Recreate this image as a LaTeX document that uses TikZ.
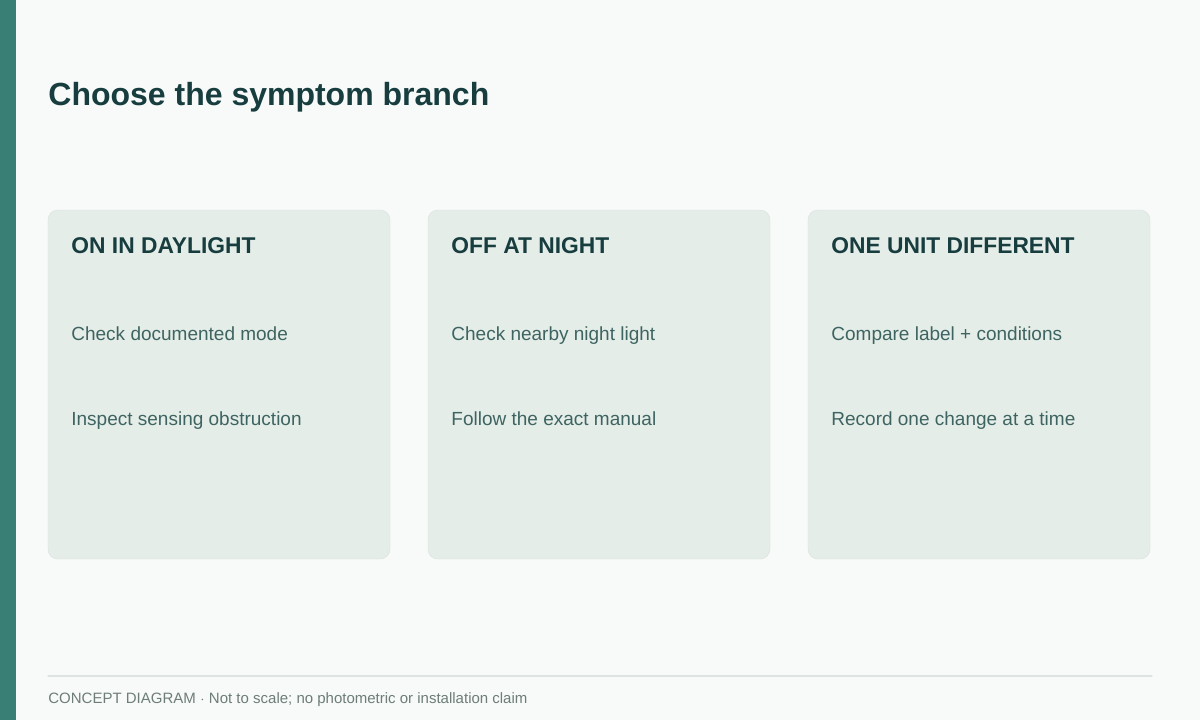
\documentclass[tikz,border=0pt]{standalone}
\usepackage{fontspec}
\setmainfont{Liberation Sans}
\usetikzlibrary{positioning}
\definecolor{pagebg}{HTML}{F7FAF9}
\definecolor{barteal}{HTML}{3A7F76}
\definecolor{cardfill}{HTML}{E5EDE8}
\definecolor{inkdark}{HTML}{173D3F}
\definecolor{inkbody}{HTML}{3E6461}
\definecolor{inkfoot}{HTML}{6E7D7A}
\definecolor{rulegray}{HTML}{DDE4E1}
\tikzset{
  card/.style={fill=cardfill, rounded corners=5pt, draw=cardfill!95!black, line width=0.2pt},
  cardhead/.style={anchor=base west, inner sep=0pt, font=\fontsize{11.4}{13}\selectfont\bfseries, text=inkdark},
  cardline/.style={anchor=base west, inner sep=0pt, font=\fontsize{9.5}{11}\selectfont, text=inkbody},
}
\begin{document}
\begin{tikzpicture}[x=0.5pt, y=-0.5pt, line cap=round, line join=round]
    \useasboundingbox (0,0) rectangle (1200,720);
    \fill[pagebg] (0,0) rectangle (1200,720);
    \fill[barteal] (0,0) rectangle (16,720);

    \node[anchor=base west, inner sep=0pt, font=\fontsize{16}{19}\selectfont\bfseries, text=inkdark] (title) at (48,105) {Choose the symptom branch};

    % three branch cards
    \foreach \cx/\name/\head/\lineA/\lineB in {
        48/day/ON IN DAYLIGHT/Check documented mode/Inspect sensing obstruction,
        428/night/OFF AT NIGHT/Check nearby night light/Follow the exact manual,
        808/unit/ONE UNIT DIFFERENT/Compare label + conditions/Record one change at a time} {
      \draw[card] (\cx,210) rectangle ++(342,349);
      \node[cardhead] (\name head) at (\cx+23,253) {\head};
      \node[cardline] (\name one) at (\cx+23,340) {\lineA};
      \node[cardline] (\name two) at (\cx+23,425) {\lineB};
    }

    \draw[rulegray, line width=0.6pt] (48,676) -- (1152,676);
    \node[anchor=base west, inner sep=0pt, font=\fontsize{7.5}{9}\selectfont, text=inkfoot] (foot) at (48,703) {CONCEPT DIAGRAM $\cdot$ Not to scale; no photometric or installation claim};
\end{tikzpicture}
\end{document}
